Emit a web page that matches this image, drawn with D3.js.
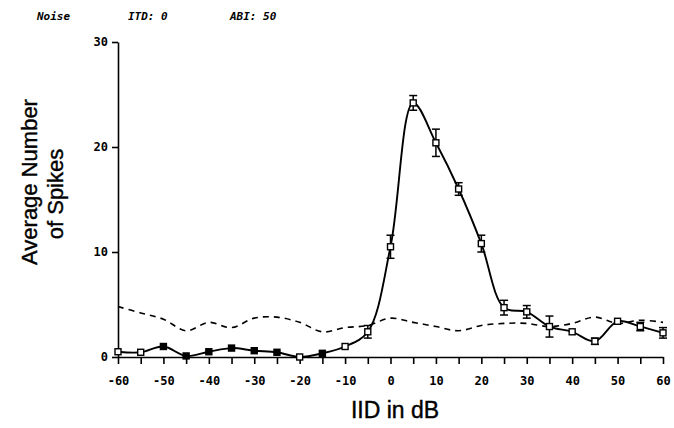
<!DOCTYPE html>
<html>
<head>
<meta charset="utf-8">
<script src="https://cdn.jsdelivr.net/npm/d3@7"></script>
<style>
  body { margin: 0; background: #fff; }
  svg { display: block; }
</style>
</head>
<body>
<script>
// ----------------------------------------
//  Data
// ----------------------------------------
const iid    = [-60, -55, -50, -45, -40, -35, -30, -25, -20, -15, -10, -5, 0, 5, 10, 15, 20, 25, 30, 35, 40, 45, 50, 55, 60];
const spikes = [0.5, 0.45, 1.0, 0.1, 0.5, 0.85, 0.6, 0.45, 0.0, 0.35, 1.0, 2.4, 10.5, 24.2, 20.4, 16.0, 10.8, 4.7, 4.3, 2.9, 2.4, 1.5, 3.4, 2.9, 2.3];
const spikeErr = [0.1, 0.1, 0.15, 0.1, 0.1, 0.15, 0.1, 0.1, 0.1, 0.1, 0.15, 0.6, 1.1, 0.7, 1.3, 0.6, 0.8, 0.7, 0.6, 1.0, 0.2, 0.3, 0.2, 0.4, 0.5];
const filledAt = [-50, -45, -40, -35, -30, -25, -15];
// dashed trace (spontaneous level)
const spont  = [4.8, 4.2, 3.6, 2.5, 3.3, 2.8, 3.7, 3.8, 3.3, 2.4, 2.8, 3.0, 3.7, 3.3, 2.9, 2.5, 3.0, 3.2, 3.2, 2.9, 3.2, 3.8, 3.2, 3.5, 3.3];

const xTicks = d3.range(-60, 61, 5);
const xLabels = d3.range(-60, 61, 10);
const yTicks = [0, 10, 20, 30];

const W = 674, H = 428;
const margin = {top: 42, right: 11, bottom: 71, left: 118};
const width = W - margin.left - margin.right;
const height = H - margin.top - margin.bottom;

const svg = d3.select("body").append("svg")
    .attr("width", W)
    .attr("height", H);

const g = svg.append("g")
    .attr("transform", "translate(" + margin.left + "," + margin.top + ")");

// ----------------------------------------
// Scales
// ----------------------------------------
const x = d3.scaleLinear().domain([-60, 60]).range([0, width]);
const y = d3.scaleLinear().domain([0, 30]).range([height, 0]);

const tickFont = "'DejaVu Sans Mono', monospace";

// ----------------------------------------
// Axes
// ----------------------------------------
const xAxis = g.append("g")
    .attr("transform", "translate(0," + height + ")")
    .call(d3.axisBottom(x).tickValues(xTicks).tickSize(7).tickSizeOuter(0)
        .tickFormat(d => xLabels.includes(d) ? d : ""));
xAxis.selectAll("text")
    .attr("dy", "1.5em")
    .style("font-family", tickFont)
    .style("font-size", "12px")
    .style("font-weight", "bold");

const yAxis = g.append("g")
    .call(d3.axisLeft(y).tickValues(yTicks).tickSize(6).tickSizeOuter(0));
yAxis.selectAll("text")
    .attr("x", -10)
    .style("font-family", tickFont)
    .style("font-size", "12px")
    .style("font-weight", "bold");

g.selectAll(".domain, .tick line").attr("stroke", "#000").attr("stroke-width", 1.6);

// ----------------------------------------
// Lines
// ----------------------------------------
const spontLine = d3.line()
    .x((d, i) => x(iid[i]))
    .y(d => y(d))
    .curve(d3.curveCatmullRom);

g.append("path")
    .datum(spont)
    .attr("fill", "none")
    .attr("stroke", "#000")
    .attr("stroke-width", 1.6)
    .attr("stroke-dasharray", "6,5")
    .attr("d", spontLine);

const respLine = d3.line()
    .x((d, i) => x(iid[i]))
    .y(d => y(d))
    .curve(d3.curveCatmullRom.alpha(0.5));

g.append("path")
    .datum(spikes)
    .attr("fill", "none")
    .attr("stroke", "#000")
    .attr("stroke-width", 1.9)
    .attr("d", respLine);

// error bars
const pts = iid.map((v, i) => ({iid: v, val: spikes[i], err: spikeErr[i]}));

const eb = g.selectAll(".err")
    .data(pts.filter(d => d.err >= 0.3))
    .enter().append("g")
    .attr("class", "err")
    .attr("stroke", "#000")
    .attr("stroke-width", 1.5);

eb.append("line")
    .attr("x1", d => x(d.iid)).attr("x2", d => x(d.iid))
    .attr("y1", d => y(d.val - d.err)).attr("y2", d => y(d.val + d.err));
eb.append("line")
    .attr("x1", d => x(d.iid) - 4).attr("x2", d => x(d.iid) + 4)
    .attr("y1", d => y(d.val + d.err)).attr("y2", d => y(d.val + d.err));
eb.append("line")
    .attr("x1", d => x(d.iid) - 4).attr("x2", d => x(d.iid) + 4)
    .attr("y1", d => y(d.val - d.err)).attr("y2", d => y(d.val - d.err));

// markers
g.selectAll(".pt")
    .data(pts)
    .enter().append("rect")
    .attr("class", "pt")
    .attr("x", d => x(d.iid) - 3)
    .attr("y", d => y(d.val) - 3)
    .attr("width", 6)
    .attr("height", 6)
    .attr("fill", d => filledAt.includes(d.iid) ? "#000" : "#fff")
    .attr("stroke", "#000")
    .attr("stroke-width", 1.4);

// ----------------------------------------
// Titles
// ----------------------------------------
const hdr = svg.append("g")
    .style("font-family", tickFont)
    .style("font-size", "11px")
    .style("font-style", "italic")
    .style("font-weight", "bold");
hdr.append("text").attr("x", 37).attr("y", 20).text("Noise");
hdr.append("text").attr("x", 128).attr("y", 20).text("ITD: 0");
hdr.append("text").attr("x", 230).attr("y", 20).text("ABI: 50");

const labFont = "'Liberation Sans', Arial, sans-serif";

svg.append("text")
    .attr("x", margin.left + x(1))
    .attr("y", 418)
    .attr("text-anchor", "middle")
    .attr("stroke", "#000")
    .attr("stroke-width", 0.4)
    .style("font-family", labFont)
    .style("font-size", "23px")
    .text("IID in dB");

svg.append("text")
    .attr("transform", "translate(37,182) rotate(-90)")
    .attr("text-anchor", "middle")
    .attr("stroke", "#000")
    .attr("stroke-width", 0.4)
    .style("font-family", labFont)
    .style("font-size", "22px")
    .text("Average Number");

svg.append("text")
    .attr("transform", "translate(63,194) rotate(-90)")
    .attr("text-anchor", "middle")
    .attr("stroke", "#000")
    .attr("stroke-width", 0.4)
    .style("font-family", labFont)
    .style("font-size", "22px")
    .text("of Spikes");
</script>
</body>
</html>
